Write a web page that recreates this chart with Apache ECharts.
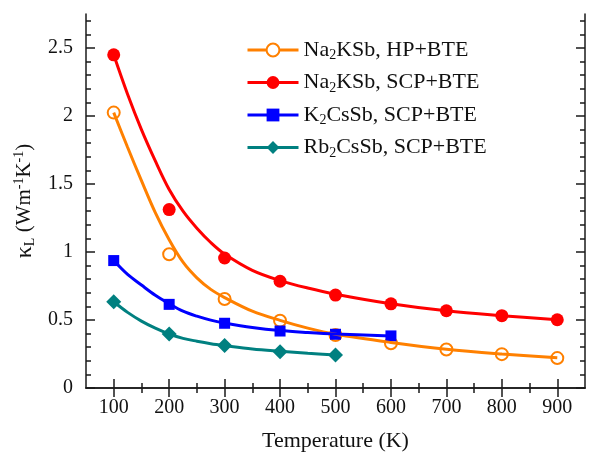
<!DOCTYPE html>
<html><head><meta charset="utf-8">
<script src="https://cdn.jsdelivr.net/npm/echarts@6/dist/echarts.min.js"></script>
<style>html,body{margin:0;padding:0;background:#fff}#c{width:598px;height:460px}</style>
</head><body><div id="c"></div>
<script>
// ---- data ----
const seriesNames = ['Na2KSb, HP+BTE', 'Na2KSb, SCP+BTE', 'K2CsSb, SCP+BTE', 'Rb2CsSb, SCP+BTE'];
const legendRich = ['{n|Na}{s|2}{n|KSb, HP+BTE}', '{n|Na}{s|2}{n|KSb, SCP+BTE}', '{n|K}{s|2}{n|CsSb, SCP+BTE}', '{n|Rb}{s|2}{n|CsSb, SCP+BTE}'];

// computed points (markers)
const tempLong = [100, 200, 300, 400, 500, 600, 700, 800, 900];
const hpNa2KSb = [2.025, 0.983, 0.654, 0.495, 0.39, 0.329, 0.283, 0.249, 0.22];
const scpNa2KSb = [2.45, 1.312, 0.956, 0.785, 0.683, 0.619, 0.568, 0.532, 0.502];
const tempK2CsSb = [100, 200, 300, 400, 500, 600];
const scpK2CsSb = [0.937, 0.615, 0.476, 0.419, 0.395, 0.383];
const tempRb2CsSb = [100, 200, 300, 400, 500];
const scpRb2CsSb = [0.634, 0.397, 0.312, 0.266, 0.242];

// fitted curves
const fitTempLong = [100, 125, 150, 175, 200, 225, 250, 275, 300, 350, 400, 450, 500, 600, 700, 800, 900];
const fitHpNa2KSb = [2.025, 1.77, 1.525, 1.29, 1.09, 0.925, 0.81, 0.725, 0.665, 0.565, 0.497, 0.44, 0.395, 0.335, 0.285, 0.25, 0.222];
const fitScpNa2KSb = [2.45, 2.16, 1.90, 1.67, 1.46, 1.30, 1.175, 1.07, 0.985, 0.865, 0.79, 0.735, 0.69, 0.62, 0.568, 0.532, 0.502];
const fitTempK2CsSb = [100, 125, 150, 175, 200, 225, 250, 275, 300, 350, 400, 450, 500, 600];
const fitScpK2CsSb = [0.937, 0.835, 0.757, 0.682, 0.62, 0.565, 0.528, 0.499, 0.478, 0.445, 0.422, 0.408, 0.397, 0.383];
const fitTempRb2CsSb = [100, 125, 150, 175, 200, 225, 250, 275, 300, 350, 400, 450, 500];
const fitScpRb2CsSb = [0.634, 0.556, 0.492, 0.44, 0.397, 0.365, 0.344, 0.326, 0.312, 0.287, 0.27, 0.255, 0.242];

// axis ticks
const xMajor = [100, 200, 300, 400, 500, 600, 700, 800, 900];
const xMinor = [150, 250, 350, 450, 550, 650, 750, 850];
const yMajor = [0, 0.5, 1, 1.5, 2, 2.5];
const yMinor = [];
for (let i = 1; i <= 27; i++) { if (i % 5 !== 0) yMinor.push(+(i / 10).toFixed(1)); }

const colors = ['#FF8000', '#FF0000', '#0000FF', '#008080'];
const symbols = ['emptyCircle', 'circle', 'rect', 'diamond'];
const symSizes = [12, 13, 11, 15];

const FONT = 'Liberation Serif';
const AX = '#1a1a1a';

function zip(a, b) { return a.map((v, i) => [v, b[i]]); }

const fits = [[fitTempLong, fitHpNa2KSb], [fitTempLong, fitScpNa2KSb], [fitTempK2CsSb, fitScpK2CsSb], [fitTempRb2CsSb, fitScpRb2CsSb]];
const pts = [[tempLong, hpNa2KSb], [tempLong, scpNa2KSb], [tempK2CsSb, scpK2CsSb], [tempRb2CsSb, scpRb2CsSb]];

const series = [];
for (let i = 0; i < 4; i++) {
  series.push({
    name: seriesNames[i], type: 'line', data: zip(fits[i][0], fits[i][1]),
    smooth: 0.35, showSymbol: false, symbol: symbols[i],
    lineStyle: { color: colors[i], width: 3 }, itemStyle: { color: colors[i] },
    silent: true, animation: false
  });
  series.push({
    name: seriesNames[i] + ' pts', type: 'scatter', data: zip(pts[i][0], pts[i][1]),
    symbol: symbols[i], symbolSize: symSizes[i],
    itemStyle: i === 0 ? { color: colors[i], borderColor: colors[i], borderWidth: 1.3, opacity: 1 } : { color: colors[i], opacity: 1 },
    silent: true, animation: false
  });
}

function xAxisDef(pos, major, showLine, showLabel) {
  return {
    type: 'value', position: pos, min: 50, max: 950,
    axisLine: { show: showLine, lineStyle: { color: AX, width: 1.5 } },
    axisTick: { show: true, inside: true, length: major ? 9 : 5, customValues: major ? xMajor : xMinor, lineStyle: { color: AX, width: 1.5 } },
    axisLabel: { show: showLabel, customValues: xMajor, margin: 10, color: '#111', fontFamily: FONT, fontSize: 20 },
    splitLine: { show: false },
    name: showLabel ? 'Temperature (K)' : '', nameLocation: 'middle', nameGap: 42,
    nameTextStyle: { color: '#111', fontFamily: FONT, fontSize: 22 }
  };
}
function yAxisDef(pos, major, showLine, showLabel) {
  return {
    type: 'value', position: pos, min: 0, max: 2.75,
    axisLine: { show: showLine, lineStyle: { color: AX, width: 1.5 } },
    axisTick: { show: true, inside: true, length: major ? 9 : 5, customValues: major ? yMajor : yMinor, lineStyle: { color: AX, width: 1.5 } },
    axisLabel: { show: showLabel, customValues: yMajor, margin: 13, color: '#111', fontFamily: FONT, fontSize: 20 },
    splitLine: { show: false },
    name: showLabel ? '{k|\u03BA}{sub|L}{n| (Wm}{sup|-1}{n|K}{sup|-1}{n|)}' : '',
    nameLocation: 'middle', nameGap: 43, nameRotate: 90,
    nameTextStyle: {
      color: '#111', fontFamily: FONT, fontSize: 21,
      rich: {
        k: { fontFamily: FONT, fontSize: 24, color: '#111' },
        n: { fontFamily: FONT, fontSize: 21, color: '#111' },
        sub: { fontFamily: FONT, fontSize: 14, color: '#111', padding: [11, 0, 0, 0] },
        sup: { fontFamily: FONT, fontSize: 14, color: '#111', padding: [0, 0, 10, 0] }
      }
    }
  };
}

const option = {
  backgroundColor: '#fff',
  animation: false,
  grid: { left: 86, right: 13, top: 14, bottom: 72, containLabel: false },
  xAxis: [xAxisDef('bottom', true, true, true), xAxisDef('bottom', false, false, false), xAxisDef('top', true, true, false), xAxisDef('top', false, false, false)],
  yAxis: [yAxisDef('left', true, true, true), yAxisDef('left', false, false, false), yAxisDef('right', true, true, false), yAxisDef('right', false, false, false)],
  legend: {
    data: seriesNames, orient: 'vertical', left: 246, top: 39, padding: 0,
    itemWidth: 51, itemHeight: 16, itemGap: 9,
    lineStyle: { width: 3 },
    formatter: function (name) { return legendRich[seriesNames.indexOf(name)]; },
    textStyle: {
      color: '#111', fontFamily: FONT, fontSize: 22,
      rich: {
        n: { fontFamily: FONT, fontSize: 22, color: '#111' },
        s: { fontFamily: FONT, fontSize: 14, color: '#111', padding: [11, 0, 0, 0] }
      }
    },
    selectedMode: false
  },
  series: series
};
const chart = echarts.init(document.getElementById('c'), null, { renderer: 'canvas' });
chart.setOption(option);
</script></body></html>
